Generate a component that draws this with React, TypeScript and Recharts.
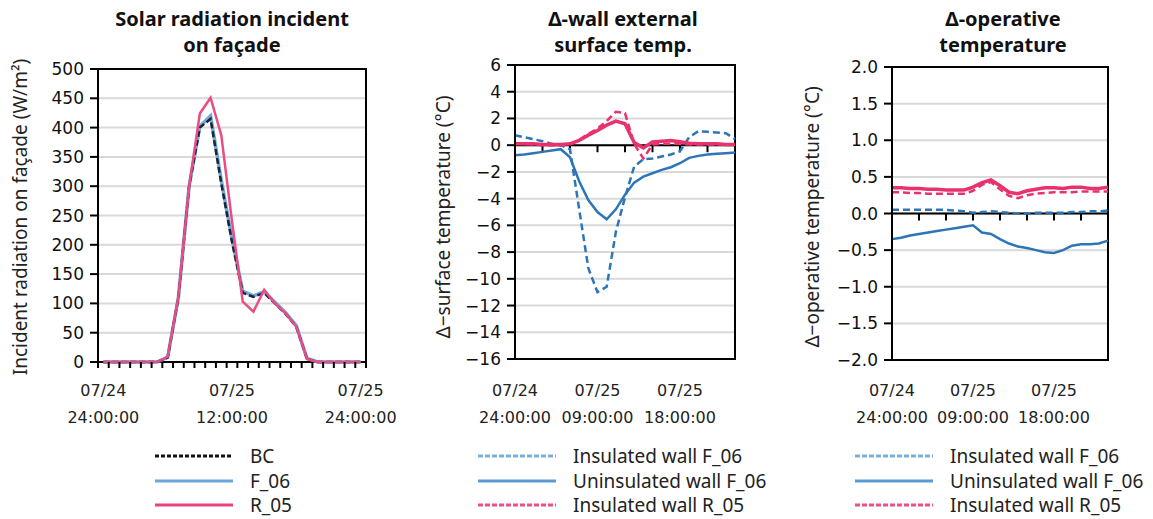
import { CartesianGrid, Line, LineChart, ReferenceArea, ReferenceLine, XAxis, YAxis } from 'recharts';

// hourly steps over the simulated day
const HOURS = [0, 1, 2, 3, 4, 5, 6, 7, 8, 9, 10, 11, 12, 13, 14, 15, 16, 17, 18, 19, 20, 21, 22, 23, 24];

// solar radiation incident on facade (W/m2)
const SOLAR_BC = [0, 0, 0, 0, 0, 0, 8, 110, 300, 400, 415, 305, 205, 118, 111, 118, 100, 82, 60, 5, 0, 0, 0, 0, 0];
const SOLAR_F06 = [0, 0, 0, 0, 0, 0, 8, 110, 300, 402, 420, 310, 210, 121, 113, 120, 102, 84, 62, 6, 0, 0, 0, 0, 0];
const SOLAR_R05 = [0, 0, 0, 0, 0, 0, 9, 112, 300, 424, 451, 387, 240, 103, 86, 123, 100, 83, 60, 5, 0, 0, 0, 0, 0];

// delta wall external surface temperature (C)
const SURF_INS_F06 = [0.75, 0.6, 0.45, 0.3, 0.1, 0, -0.3, -4.8, -9.2, -11, -10.6, -6.5, -3.9, -1.6, -1.05, -1, -0.85, -0.7, -0.45, 0.6, 1.05, 1, 0.95, 0.9, 0.45];
const SURF_UNINS_F06 = [-0.75, -0.7, -0.6, -0.5, -0.4, -0.3, -0.9, -2.7, -4.1, -5, -5.55, -4.8, -3.7, -2.8, -2.35, -2.1, -1.85, -1.65, -1.35, -0.95, -0.8, -0.7, -0.65, -0.6, -0.55];
const SURF_INS_R05 = [0.1, 0.1, 0.05, 0, 0, 0, 0.05, 0.4, 0.85, 1.25, 1.8, 2.5, 2.4, 0.1, -1, 0.05, 0.1, 0.1, 0.1, 0.05, 0.05, 0.05, 0.05, 0.05, 0.05];
const SURF_UNINS_R05 = [0.1, 0.1, 0.1, 0.05, 0.05, 0.05, 0.1, 0.35, 0.75, 1.1, 1.5, 1.8, 1.6, 0.2, -0.2, 0.25, 0.3, 0.35, 0.25, 0.15, 0.1, 0.1, 0.1, 0.05, 0.05];

// delta operative temperature (C)
const OP_INS_F06 = [0.05, 0.05, 0.05, 0.05, 0.05, 0.05, 0.05, 0.04, 0.03, 0.01, 0.02, 0.03, 0.02, 0.01, 0, 0, 0.01, 0.01, 0.01, 0.01, 0.02, 0.02, 0.03, 0.03, 0.04];
const OP_UNINS_F06 = [-0.35, -0.33, -0.3, -0.28, -0.26, -0.24, -0.22, -0.2, -0.18, -0.16, -0.26, -0.28, -0.35, -0.41, -0.45, -0.47, -0.5, -0.53, -0.54, -0.5, -0.44, -0.42, -0.42, -0.41, -0.37];
const OP_INS_R05 = [0.29, 0.29, 0.28, 0.28, 0.27, 0.27, 0.27, 0.27, 0.27, 0.31, 0.39, 0.43, 0.33, 0.24, 0.21, 0.25, 0.27, 0.28, 0.29, 0.29, 0.29, 0.3, 0.3, 0.3, 0.3];
const OP_UNINS_R05 = [0.35, 0.35, 0.34, 0.34, 0.33, 0.33, 0.32, 0.32, 0.32, 0.36, 0.42, 0.46, 0.38, 0.29, 0.27, 0.31, 0.33, 0.35, 0.35, 0.34, 0.36, 0.36, 0.34, 0.34, 0.36];

// axis ticks
const SOLAR_Y_TICKS = [0, 50, 100, 150, 200, 250, 300, 350, 400, 450, 500];
// tick marks sit between the hourly categories, labels on the categories
const SOLAR_X_BOUNDS = [-0.5, 0.5, 1.5, 2.5, 3.5, 4.5, 5.5, 6.5, 7.5, 8.5, 9.5, 10.5, 11.5, 12.5, 13.5, 14.5, 15.5, 16.5, 17.5, 18.5, 19.5, 20.5, 21.5, 22.5, 23.5, 24.5];
const SOLAR_X_LABELS = [0, 12, 24];
const SOLAR_X_DATES = ['07/24', '07/25', '07/25'];
const SOLAR_X_TIMES = ['24:00:00', '12:00:00', '24:00:00'];

const SURF_Y_TICKS = [-16, -14, -12, -10, -8, -6, -4, -2, 0, 2, 4, 6];
const OP_Y_TICKS = [-2, -1.5, -1, -0.5, 0, 0.5, 1, 1.5, 2];
const DELTA_X_MARKS = [3, 6, 9, 12, 15, 18, 21];
const DELTA_X_LABELS = [0, 9, 18];
const DELTA_X_DATES = ['07/24', '07/25', '07/25'];
const DELTA_X_TIMES = ['24:00:00', '09:00:00', '18:00:00'];

const BLUE = '#2e75b6';
const PINK = '#e8326e';
const GRID = '#d9d9d9';
const TICK_FONT = { fontFamily: 'DejaVu Sans', fontSize: 17, fill: '#111' };

const solarData = HOURS.map((h, i) => ({ h, bc: SOLAR_BC[i], f06: SOLAR_F06[i], r05: SOLAR_R05[i] }));
const surfData = HOURS.map((h, i) => ({ h, insF: SURF_INS_F06[i], uninsF: SURF_UNINS_F06[i], insR: SURF_INS_R05[i], uninsR: SURF_UNINS_R05[i] }));
const opData = HOURS.map((h, i) => ({ h, insF: OP_INS_F06[i], uninsF: OP_UNINS_F06[i], insR: OP_INS_R05[i], uninsR: OP_UNINS_R05[i] }));

const minus = (v: number, digits: number) => v.toFixed(digits).replace('-', '\u2212');

// legend entries for each panel
const SOLAR_LEGEND = [
  { name: 'BC', color: '#111', dash: '4 2' },
  { name: 'F_06', color: '#6aa6dc', dash: '' },
  { name: 'R_05', color: '#e8437e', dash: '' },
];
const DELTA_LEGEND = [
  { name: 'Insulated wall F_06', color: '#7ab0e0', dash: '5 2' },
  { name: 'Uninsulated wall F_06', color: '#5b9bd5', dash: '' },
  { name: 'Insulated wall R_05', color: '#ec4f8a', dash: '5 2' },
];

// two-line date label; other tick values get a short tick mark instead
function DateTick(props: any) {
  const { x, y, payload, values, dates, times, dy1, dy2, mark } = props;
  const i = values.indexOf(payload.value);
  if (i < 0) {
    return mark ? <line x1={x} y1={y} x2={x} y2={y + mark} stroke="#000" strokeWidth={2} /> : null;
  }
  return (
    <g>
      <text x={x} y={y + dy1} textAnchor="middle" fontFamily="DejaVu Sans" fontSize={16} fill="#222">{dates[i]}</text>
      <text x={x} y={y + dy2} textAnchor="middle" fontFamily="DejaVu Sans" fontSize={16} fill="#222">{times[i]}</text>
    </g>
  );
}

function Title({ lines, cx }: { lines: string[]; cx: number }) {
  return (
    <div style={{ position: 'absolute', left: cx - 150, top: 6, width: 300, textAlign: 'center', fontFamily: 'Noto Sans', fontWeight: 700, fontSize: 20, lineHeight: '26px', color: '#111' }}>
      {lines.map((l) => <div key={l}>{l}</div>)}
    </div>
  );
}

function YTitle({ text, cx, cy }: { text: string; cx: number; cy: number }) {
  return (
    <div style={{ position: 'absolute', left: cx, top: cy, transform: 'translate(-50%, -50%) rotate(-90deg)', whiteSpace: 'nowrap', fontFamily: 'Noto Sans', fontSize: 19, color: '#222' }}>
      {text}
    </div>
  );
}

function Legend({ items, x }: { items: { name: string; color: string; dash: string }[]; x: number }) {
  return (
    <div style={{ position: 'absolute', left: x, top: 444 }}>
      {items.map((it) => (
        <div key={it.name} style={{ display: 'flex', alignItems: 'center', height: 24.5 }}>
          <svg width={80} height={10} style={{ marginRight: 16 }}>
            <line x1={1} y1={5} x2={79} y2={5} stroke={it.color} strokeWidth={3} strokeDasharray={it.dash || undefined} />
          </svg>
          <span style={{ fontFamily: 'Noto Sans', fontSize: 19, lineHeight: '20px', color: '#222' }}>{it.name}</span>
        </div>
      ))}
    </div>
  );
}

export default function App() {
  // length of the tick marks hanging below the zero line, in data units
  const surfTick = 22 * 0.024;
  const opTick = 4 * 0.024;
  const solarXTicks = [...SOLAR_X_BOUNDS, ...SOLAR_X_LABELS].sort((a, b) => a - b);
  return (
    <div style={{ position: 'absolute', left: 0, top: 0, width: 1153, height: 519, background: '#fff', overflow: 'hidden' }}>
      <Title lines={['Solar radiation incident', 'on façade']} cx={232} />
      <Title lines={['\u0394-wall external', 'surface temp.']} cx={623} />
      <Title lines={['\u0394-operative', 'temperature']} cx={1003} />

      <YTitle text="Incident radiation on façade (W/m²)" cx={20} cy={217} />
      <YTitle text={'\u0394\u2212surface temperature (°C)'} cx={443} cy={217} />
      <YTitle text={'\u0394\u2212operative temperature (°C)'} cx={812} cy={217} />

      {/* solar radiation */}
      <div style={{ position: 'absolute', left: 0, top: 0 }}>
        <LineChart width={400} height={440} data={solarData} margin={{ top: 69, right: 34, left: 38, bottom: 8 }}>
          <CartesianGrid vertical={false} stroke={GRID} strokeWidth={2} />
          <XAxis dataKey="h" type="number" domain={[-0.5, 24.5]} ticks={solarXTicks} interval={0} height={70} tickSize={0} tickMargin={0} axisLine={false} tickLine={false}
            tick={(p: any) => <DateTick {...p} values={SOLAR_X_LABELS} dates={SOLAR_X_DATES} times={SOLAR_X_TIMES} dy1={34} dy2={61} mark={6} />} />
          <YAxis width={60} domain={[0, 500]} ticks={SOLAR_Y_TICKS} interval={0} tickSize={8} tickMargin={6} tick={TICK_FONT} axisLine={{ stroke: '#000', strokeWidth: 2 }} tickLine={{ stroke: '#000', strokeWidth: 2 }} />
          <ReferenceArea x1={-0.5} x2={24.5} y1={0} y2={500} fill="none" fillOpacity={0} stroke="#000" strokeWidth={2} />
          <Line dataKey="f06" stroke="#6fa8dc" strokeWidth={3.5} dot={false} isAnimationActive={false} />
          <Line dataKey="bc" stroke="#1c2430" strokeWidth={2.5} strokeDasharray="6 3" dot={false} isAnimationActive={false} />
          <Line dataKey="r05" stroke="#ea4c84" strokeWidth={2.5} dot={false} isAnimationActive={false} />
        </LineChart>
      </div>

      {/* wall surface temperature */}
      <div style={{ position: 'absolute', left: 400, top: 0 }}>
        <LineChart width={380} height={440} data={surfData} margin={{ top: 65, right: 45, left: 55, bottom: 11 }}>
          <CartesianGrid vertical={false} stroke={GRID} strokeWidth={2} />
          <XAxis dataKey="h" type="number" domain={[0, 24]} ticks={DELTA_X_LABELS} interval={0} height={70} tickSize={0} tickMargin={0} axisLine={false} tickLine={false}
            tick={(p: any) => <DateTick {...p} values={DELTA_X_LABELS} dates={DELTA_X_DATES} times={DELTA_X_TIMES} dy1={37} dy2={64} />} />
          <YAxis width={60} domain={[-16, 6]} ticks={SURF_Y_TICKS} interval={0} tickSize={8} tickMargin={6} tick={TICK_FONT} tickFormatter={(v: number) => minus(v, 0)} axisLine={{ stroke: '#000', strokeWidth: 2 }} tickLine={{ stroke: '#000', strokeWidth: 2 }} />
          <ReferenceArea x1={0} x2={24} y1={-16} y2={6} fill="none" fillOpacity={0} stroke="#000" strokeWidth={2} />
          <ReferenceLine y={0} stroke="#000" strokeWidth={2} />
          {DELTA_X_MARKS.map((m) => (
            <ReferenceLine key={m} segment={[{ x: m, y: 0 }, { x: m, y: -surfTick }]} stroke="#000" strokeWidth={2} />
          ))}
          <Line dataKey="insF" stroke={BLUE} strokeWidth={2.5} strokeDasharray="7 4" dot={false} isAnimationActive={false} />
          <Line dataKey="uninsF" stroke={BLUE} strokeWidth={2.5} dot={false} isAnimationActive={false} />
          <Line dataKey="uninsR" stroke={PINK} strokeWidth={3.5} dot={false} isAnimationActive={false} />
          <Line dataKey="insR" stroke={PINK} strokeWidth={2.5} strokeDasharray="7 4" dot={false} isAnimationActive={false} />
        </LineChart>
      </div>

      {/* operative temperature */}
      <div style={{ position: 'absolute', left: 780, top: 0 }}>
        <LineChart width={373} height={440} data={opData} margin={{ top: 67, right: 45, left: 52, bottom: 10 }}>
          <CartesianGrid vertical={false} stroke={GRID} strokeWidth={2} />
          <XAxis dataKey="h" type="number" domain={[0, 24]} ticks={DELTA_X_LABELS} interval={0} height={70} tickSize={0} tickMargin={0} axisLine={false} tickLine={false}
            tick={(p: any) => <DateTick {...p} values={DELTA_X_LABELS} dates={DELTA_X_DATES} times={DELTA_X_TIMES} dy1={36} dy2={63} />} />
          <YAxis width={60} domain={[-2, 2]} ticks={OP_Y_TICKS} interval={0} tickSize={8} tickMargin={6} tick={TICK_FONT} tickFormatter={(v: number) => minus(v, 1)} axisLine={{ stroke: '#000', strokeWidth: 2 }} tickLine={{ stroke: '#000', strokeWidth: 2 }} />
          <ReferenceArea x1={0} x2={24} y1={-2} y2={2} fill="none" fillOpacity={0} stroke="#000" strokeWidth={2} />
          <ReferenceLine y={0} stroke="#000" strokeWidth={2} />
          {DELTA_X_MARKS.map((m) => (
            <ReferenceLine key={m} segment={[{ x: m, y: 0 }, { x: m, y: -opTick }]} stroke="#000" strokeWidth={2} />
          ))}
          <Line dataKey="insF" stroke={BLUE} strokeWidth={2.5} strokeDasharray="7 4" dot={false} isAnimationActive={false} />
          <Line dataKey="uninsF" stroke={BLUE} strokeWidth={2.5} dot={false} isAnimationActive={false} />
          <Line dataKey="uninsR" stroke={PINK} strokeWidth={3.5} dot={false} isAnimationActive={false} />
          <Line dataKey="insR" stroke={PINK} strokeWidth={2.5} strokeDasharray="7 4" dot={false} isAnimationActive={false} />
        </LineChart>
      </div>

      <Legend items={SOLAR_LEGEND} x={154} />
      <Legend items={DELTA_LEGEND} x={477} />
      <Legend items={DELTA_LEGEND} x={854} />
    </div>
  );
}
